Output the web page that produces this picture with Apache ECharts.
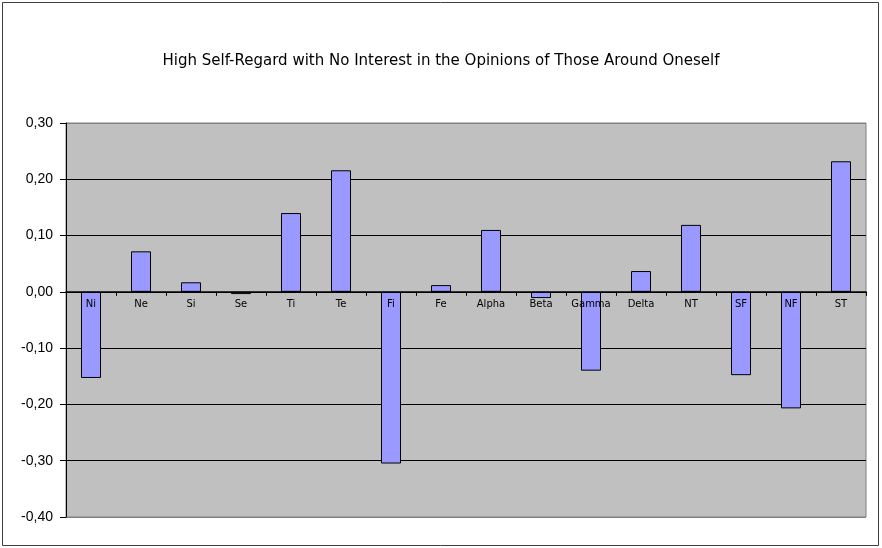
<!DOCTYPE html>
<html>
<head>
<meta charset="utf-8">
<script src="https://cdn.jsdelivr.net/npm/echarts@6/dist/echarts.min.js"></script>
<style>
html,body{margin:0;padding:0;background:#fff;}
#c{width:882px;height:548px;}
</style>
</head>
<body>
<div id="c"></div>
<script>
const titleText = 'High Self-Regard with No Interest in the Opinions of Those Around Oneself';
const categories = ['Ni','Ne','Si','Se','Ti','Te','Fi','Fe','Alpha','Beta','Gamma','Delta','NT','SF','NF','ST'];
const values = [-0.153, 0.072, 0.017, -0.004, 0.140, 0.216, -0.305, 0.012, 0.110, -0.011, -0.140, 0.037, 0.119, -0.148, -0.207, 0.232];
const yMin = -0.4, yMax = 0.3, yStep = 0.1;

const gridTop = 123, gridBottom = 31, chartH = 548;
const plotH = chartH - gridTop - gridBottom;
const zeroOffset = -(plotH * (0 - yMin) / (yMax - yMin));

const chart = echarts.init(document.getElementById('c'), null, {renderer:'canvas'});
chart.setOption({
  animation:false,
  backgroundColor:'#fff',
  title:{
    text:titleText, left:'center', top:49,
    textStyle:{fontFamily:'DejaVu Sans', fontSize:15, fontWeight:'normal', color:'#000'}
  },
  graphic:[{
    type:'rect', shape:{x:2.5,y:2.5,width:876,height:543},
    style:{fill:null, stroke:'#404040', lineWidth:1}, silent:true, z:-1
  }],
  grid:{left:66, right:16, top:gridTop, bottom:gridBottom, show:true, backgroundColor:'#C0C0C0', borderColor:'#808080', borderWidth:1},
  xAxis:{
    type:'category', data:categories, z:10,
    offset:zeroOffset,
    axisLine:{onZero:false, lineStyle:{color:'#000', width:1.5}},
    axisTick:{show:true, length:4, lineStyle:{color:'#000'}},
    axisLabel:{fontFamily:'DejaVu Sans', fontSize:10, color:'#000', margin:8, interval:0},
    splitLine:{show:false}
  },
  yAxis:{
    type:'value', min:yMin, max:yMax, interval:yStep,
    axisLine:{show:true, lineStyle:{color:'#000'}},
    axisTick:{show:true, length:6, lineStyle:{color:'#000'}},
    axisLabel:{fontFamily:'Liberation Sans', fontSize:14, color:'#000', margin:13,
      formatter:v=>v.toFixed(2).replace('.',',')},
    splitLine:{show:true, lineStyle:{color:['#808080','#000','#000','#000','#000','#000','#000','#808080'], width:1}}
  },
  series:[{
    type:'bar', data:values, barWidth:20,
    itemStyle:{color:'#9999FF', borderColor:'#000', borderWidth:1}
  }]
});
</script>
</body>
</html>
